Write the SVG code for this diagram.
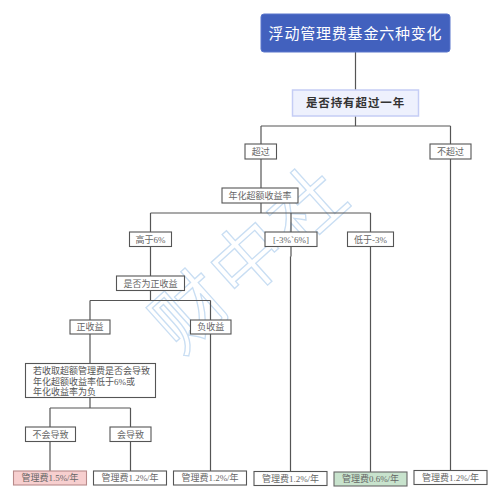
<svg xmlns="http://www.w3.org/2000/svg" width="501" height="500" viewBox="0 0 501 500">
<style>
.bx{fill:#ffffff;stroke:#555555;stroke-width:1.1}
.t{font-family:"Liberation Serif","Noto Sans CJK SC",serif;font-size:9px;fill:#666666;text-anchor:middle}
.tl{font-family:"Liberation Serif","Noto Sans CJK SC",serif;font-size:9px;fill:#555555}
.ln{fill:none;stroke:#555555;stroke-width:1.2}
</style>
<rect width="501" height="500" fill="#ffffff"/>
<g id="watermark">
<text x="250" y="284" transform="rotate(-42 250 258)" text-anchor="middle" font-family="Noto Sans CJK SC, sans-serif" font-size="74" letter-spacing="4" fill="none" stroke="#c9def3" stroke-width="1.3">财中社</text>
</g>
<g id="connectors" class="ln">
<path d="M355.5 52V90"/>
<path d="M355.5 116V126M261 126H450.5M261 126V144M450.5 126V144"/>
<path d="M261 159V188"/>
<path d="M261 203V213M150.5 213H370.5M150.5 213V232M291 213V232M370.5 213V232"/>
<path d="M150.5 246.5V276"/>
<path d="M150.5 290.5V300.5M90 300.5H210.5M90 300.5V320M210.5 300.5V320"/>
<path d="M90 334V363.5"/>
<path d="M90 397.5V408M50 408H130.5M50 408V427M130.5 408V427"/>
<path d="M50 441.5V471M130.5 441.5V471"/>
<path d="M210.5 334V471"/>
<path d="M291 246.5V256.5M290.5 256.5V471.5"/>
<path d="M370.5 246.5V472"/>
<path d="M450.5 159V470.5"/>
</g>
<g id="title">
<rect x="261" y="14" width="189" height="38" rx="3" fill="#4261be" stroke="#5a76cc" stroke-width="1"/>
<text x="355.5" y="38.5" text-anchor="middle" font-family="Noto Sans CJK SC, sans-serif" font-size="15" letter-spacing="0.8" fill="#ffffff">浮动管理费基金六种变化</text>
</g>
<g id="hold">
<rect x="292.5" y="90" width="126" height="26" fill="#eef1fd" stroke="#c5cdf5" stroke-width="1.5"/>
<text x="355.5" y="107" text-anchor="middle" font-family="Noto Sans CJK SC, sans-serif" font-size="11.5" font-weight="bold" letter-spacing="0.9" fill="#333333">是否持有超过一年</text>
</g>
<g id="over"><rect class="bx" x="245" y="144" width="31.5" height="15"/><text class="t" x="260.7" y="154.8">超过</text></g>
<g id="notover"><rect class="bx" x="430" y="144" width="41" height="15"/><text class="t" x="450.5" y="154.8">不超过</text></g>
<g id="excess"><rect class="bx" x="222" y="188" width="76" height="15"/><text class="t" x="260" y="198.8">年化超额收益率</text></g>
<g id="gt6"><rect class="bx" x="129.5" y="232" width="42" height="14.5"/><text class="t" x="150.5" y="242.5">高于6%</text></g>
<g id="mid"><rect class="bx" x="265" y="232" width="52" height="14.5"/><text class="t" x="291" y="242.5">[-3%`6%]</text></g>
<g id="lt3"><rect class="bx" x="347.5" y="232" width="46" height="14.5"/><text class="t" x="370.5" y="242.5">低于-3%</text></g>
<g id="ispos"><rect class="bx" x="116.5" y="276" width="68" height="14.5"/><text class="t" x="150.5" y="286.5">是否为正收益</text></g>
<g id="pos"><rect class="bx" x="70" y="320" width="40" height="14"/><text class="t" x="90" y="330.3">正收益</text></g>
<g id="neg"><rect class="bx" x="190.5" y="320" width="40.5" height="14"/><text class="t" x="210.7" y="330.3">负收益</text></g>
<g id="question"><rect class="bx" x="25.5" y="363.5" width="130" height="34"/>
<text class="tl" x="33" y="374">若收取超额管理费是否会导致</text>
<text class="tl" x="33" y="384.5">年化超额收益率低于6%或</text>
<text class="tl" x="33" y="395">年化收益率为负</text></g>
<g id="nocause"><rect class="bx" x="25.5" y="427" width="50" height="14.5"/><text class="t" x="50.5" y="437.5">不会导致</text></g>
<g id="cause"><rect class="bx" x="110" y="427" width="41" height="14.5"/><text class="t" x="130.5" y="437.5">会导致</text></g>
<g id="fee1"><rect x="13.5" y="471" width="73" height="14" fill="#f7cfcf" stroke="#b88a8a" stroke-width="1.1"/><text class="t" x="50" y="481.3">管理费1.5%/年</text></g>
<g id="fee2"><rect class="bx" x="93.5" y="471" width="73" height="14"/><text class="t" x="130" y="481.3">管理费1.2%/年</text></g>
<g id="fee3"><rect class="bx" x="173.5" y="471" width="73" height="14"/><text class="t" x="210" y="481.3">管理费1.2%/年</text></g>
<g id="fee4"><rect class="bx" x="254" y="471.5" width="73" height="14"/><text class="t" x="290.5" y="481.8">管理费1.2%/年</text></g>
<g id="fee5"><rect x="334" y="472" width="73" height="14" fill="#c8e3cd" stroke="#666666" stroke-width="1.1"/><text class="t" x="370.5" y="482.3">管理费0.6%/年</text></g>
<g id="fee6"><rect class="bx" x="414" y="470.5" width="73" height="14"/><text class="t" x="450.5" y="480.8">管理费1.2%/年</text></g>
</svg>
